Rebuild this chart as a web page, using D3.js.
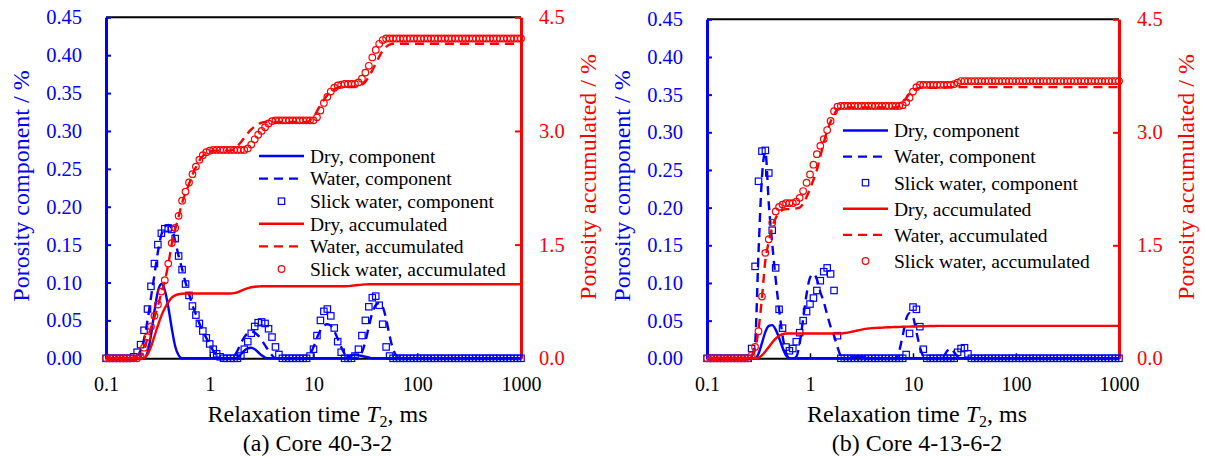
<!DOCTYPE html>
<html>
<head>
<meta charset="utf-8">
<script src="https://cdn.jsdelivr.net/npm/d3@7"></script>
<style>
  body { margin: 0; background: #fff; }
  svg { display: block; }
  text { font-family: "Liberation Serif", "Times New Roman", serif; }
</style>
</head>
<body>
<svg id="chart" width="1205" height="457"></svg>
<script>
// T2 grid, ms (one decade per line)
const t2 = [
  0.1, 0.108, 0.1166, 0.1259, 0.1359, 0.1468, 0.1585, 0.1711, 0.1848, 0.1995, 0.2154, 0.2326, 0.2512, 0.2712, 0.2929, 0.3162, 0.3415, 0.3687, 0.3981, 0.4299, 0.4642, 0.5012, 0.5412, 0.5843, 0.631, 0.6813, 0.7356, 0.7943, 0.8577, 0.9261,
  1, 1.08, 1.166, 1.259, 1.359, 1.468, 1.585, 1.711, 1.848, 1.995, 2.154, 2.326, 2.512, 2.712, 2.929, 3.162, 3.415, 3.687, 3.981, 4.299, 4.642, 5.012, 5.412, 5.843, 6.31, 6.813, 7.356, 7.943, 8.577, 9.261,
  10, 10.8, 11.66, 12.59, 13.59, 14.68, 15.85, 17.11, 18.48, 19.95, 21.54, 23.26, 25.12, 27.12, 29.29, 31.62, 34.15, 36.87, 39.81, 42.99, 46.42, 50.12, 54.12, 58.43, 63.1, 68.13, 73.56, 79.43, 85.77, 92.61,
  100, 108, 116.6, 125.9, 135.9, 146.8, 158.5, 171.1, 184.8, 199.5, 215.4, 232.6, 251.2, 271.2, 292.9, 316.2, 341.5, 368.7, 398.1, 429.9, 464.2, 501.2, 541.2, 584.3, 631, 681.3, 735.6, 794.3, 857.7, 926.1,
  1000];

const xTicks = [0.1, 1, 10, 100, 1000];
const xTickLabels = ["0.1", "1", "10", "100", "1000"];
const leftTicks = [0, 0.05, 0.1, 0.15, 0.2, 0.25, 0.3, 0.35, 0.4, 0.45];
const rightTicks = [0, 1.5, 3, 4.5];
const legendNames = ["Dry, component", "Water, component", "Slick water, component",
                     "Dry, accumulated", "Water, accumulated", "Slick water, accumulated"];

// ---- (a) Core 40-3-2 ----
const aDryComp = [
  0,0,0,0,0,0,0,0,0,0, 0,0,0.008,0.03,0.062,0.088,0.098,0.09,0.068,0.04, 0.016,0.004,0,0,0,0,0,0,0,0,
  0,0,0,0,0,0,0,0,0.001,0.005, 0.01,0.013,0.014,0.012,0.008,0.004,0.001,0,0,0, 0,0,0,0,0,0,0,0,0,0,
  0,0,0,0,0,0,0,0,0,0, 0.002,0.004,0.005,0.004,0.003,0.002,0.001,0,0,0, 0,0,0,0,0,0,0,0,0,0,
  0,0,0,0,0,0,0,0,0,0, 0,0,0,0,0,0,0,0,0,0, 0,0,0,0,0,0,0,0,0,0,
  0];
const aWaterComp = [
  0,0,0,0,0,0,0,0,0,0.003, 0.01,0.025,0.05,0.08,0.11,0.14,0.163,0.174,0.176,0.172, 0.155,0.135,0.118,0.1,0.085,0.07,0.058,0.046,0.036,0.027,
  0.018,0.01,0.004,0.001,0,0,0,0.003,0.01,0.02, 0.028,0.033,0.035,0.034,0.03,0.024,0.017,0.01,0.004,0, 0,0,0,0,0,0,0,0,0,0.005,
  0.015,0.027,0.037,0.043,0.045,0.043,0.036,0.026,0.015,0.006, 0,0,0,0.002,0.008,0.022,0.042,0.06,0.07,0.073, 0.068,0.052,0.03,0.012,0.003,0,0,0,0,0,
  0,0,0,0,0,0,0,0,0,0, 0,0,0,0,0,0,0,0,0,0, 0,0,0,0,0,0,0,0,0,0,
  0];
const aSlickComp = [
  0,0,0,0,0,0,0,0,0.002,0.008, 0.018,0.037,0.065,0.095,0.125,0.15,0.165,0.171,0.172,0.17, 0.158,0.135,0.117,0.098,0.083,0.069,0.057,0.046,0.036,0.027,
  0.019,0.012,0.006,0.002,0,0,0,0,0,0.003, 0.012,0.022,0.033,0.042,0.047,0.048,0.046,0.039,0.028,0.015, 0.005,0,0,0,0,0,0,0,0,0.003,
  0.012,0.03,0.05,0.062,0.065,0.056,0.04,0.022,0.008,0, 0,0,0.003,0.012,0.03,0.05,0.068,0.08,0.082,0.07, 0.045,0.015,0.003,0,0,0,0,0,0,0,
  0,0,0,0,0,0,0,0,0,0, 0,0,0,0,0,0,0,0,0,0, 0,0,0,0,0,0,0,0,0,0,
  0];
const aDryAcc = [
  0,0,0,0,0,0,0,0,0,0, 0,0.005,0.05,0.15,0.29,0.43,0.56,0.66,0.74,0.8, 0.83,0.845,0.852,0.855,0.855,0.855,0.855,0.855,0.855,0.855,
  0.855,0.855,0.855,0.855,0.855,0.855,0.855,0.86,0.87,0.89, 0.91,0.925,0.938,0.945,0.948,0.95,0.95,0.95,0.95,0.95, 0.95,0.95,0.95,0.95,0.95,0.95,0.95,0.95,0.95,0.95,
  0.95,0.95,0.95,0.95,0.95,0.95,0.95,0.95,0.95,0.95, 0.953,0.958,0.963,0.968,0.972,0.975,0.977,0.977,0.977,0.977, 0.977,0.977,0.977,0.977,0.977,0.977,0.977,0.977,0.977,0.977,
  0.977,0.977,0.977,0.977,0.977,0.977,0.977,0.977,0.977,0.977, 0.977,0.977,0.977,0.977,0.977,0.977,0.977,0.977,0.977,0.977, 0.977,0.977,0.977,0.977,0.977,0.977,0.977,0.977,0.977,0.977,
  0.977];
const aWaterAcc = [
  0,0,0,0,0,0,0,0,0,0, 0.02,0.12,0.26,0.4,0.54,0.69,0.86,1.02,1.24,1.5, 1.7,1.87,2.05,2.18,2.3,2.42,2.52,2.61,2.67,2.71,
  2.73,2.74,2.74,2.74,2.74,2.74,2.74,2.76,2.8,2.85, 2.91,2.97,3.02,3.06,3.09,3.11,3.12,3.12,3.12,3.12, 3.12,3.12,3.12,3.12,3.12,3.12,3.12,3.12,3.12,3.14,
  3.19,3.26,3.34,3.41,3.47,3.52,3.55,3.57,3.58,3.58, 3.58,3.58,3.58,3.59,3.61,3.65,3.72,3.8,3.89,3.98, 4.06,4.11,4.14,4.15,4.15,4.15,4.15,4.15,4.15,4.15,
  4.15,4.15,4.15,4.15,4.15,4.15,4.15,4.15,4.15,4.15, 4.15,4.15,4.15,4.15,4.15,4.15,4.15,4.15,4.15,4.15, 4.15,4.15,4.15,4.15,4.15,4.15,4.15,4.15,4.15,4.15,
  4.15];
const aSlickAcc = [
  0,0,0,0,0,0,0,0,0,0, 0.03,0.14,0.28,0.42,0.56,0.71,0.88,1.03,1.25,1.52, 1.72,1.88,2.08,2.2,2.32,2.43,2.53,2.62,2.68,2.72,
  2.74,2.75,2.75,2.75,2.75,2.75,2.75,2.75,2.75,2.75, 2.75,2.77,2.82,2.89,2.95,3,3.05,3.1,3.13,3.14, 3.14,3.14,3.14,3.14,3.14,3.14,3.14,3.14,3.14,3.14,
  3.14,3.18,3.27,3.37,3.45,3.52,3.57,3.6,3.61,3.62, 3.62,3.62,3.62,3.64,3.69,3.77,3.86,3.97,4.07,4.15, 4.2,4.22,4.22,4.22,4.22,4.22,4.22,4.22,4.22,4.22,
  4.22,4.22,4.22,4.22,4.22,4.22,4.22,4.22,4.22,4.22, 4.22,4.22,4.22,4.22,4.22,4.22,4.22,4.22,4.22,4.22, 4.22,4.22,4.22,4.22,4.22,4.22,4.22,4.22,4.22,4.22,
  4.22];

// ---- (b) Core 4-13-6-2 ----
const bDryComp = [
  0,0,0,0,0,0,0,0,0,0, 0,0,0,0,0,0.006,0.02,0.035,0.043,0.044, 0.038,0.027,0.014,0.004,0,0,0,0,0,0,
  0,0,0,0,0,0,0,0,0,0, 0,0,0.001,0.002,0.002,0.002,0.001,0,0,0, 0,0,0,0,0,0,0,0,0,0,
  0,0,0,0,0,0,0,0,0,0, 0,0,0,0,0,0,0,0,0,0, 0,0,0,0,0,0,0,0,0,0,
  0,0,0,0,0,0,0,0,0,0, 0,0,0,0,0,0,0,0,0,0, 0,0,0,0,0,0,0,0,0,0,
  0];
const bWaterComp = [
  0,0,0,0,0,0,0,0,0,0, 0,0,0,0.003,0.02,0.14,0.24,0.274,0.205,0.152, 0.105,0.065,0.03,0.008,0,0,0.002,0.02,0.052,0.085,
  0.107,0.112,0.105,0.088,0.075,0.058,0.042,0.03,0.015,0.003, 0,0,0,0,0,0,0,0,0,0, 0,0,0,0,0,0,0.01,0.03,0.052,0.06,
  0.055,0.035,0.015,0.003,0,0,0,0,0,0.003, 0.01,0.013,0.008,0.002,0,0,0,0,0,0, 0,0,0,0,0,0,0,0,0,0,
  0,0,0,0,0,0,0,0,0,0, 0,0,0,0,0,0,0,0,0,0, 0,0,0,0,0,0,0,0,0,0,
  0];
const bSlickComp = [
  0,0,0,0,0,0,0,0,0,0, 0,0,0,0.013,0.122,0.235,0.275,0.276,0.246,0.17, 0.12,0.065,0.04,0.015,0.01,0.013,0.022,0.034,0.05,0.062,
  0.072,0.08,0.09,0.103,0.115,0.12,0.112,0.09,0.03,0, 0,0,0,0,0,0,0,0,0,0, 0,0,0,0,0,0,0,0,0.005,0.033,
  0.068,0.065,0.042,0.012,0,0,0,0,0,0, 0,0,0,0.008,0.013,0.014,0.006,0,0,0, 0,0,0,0,0,0,0,0,0,0,
  0,0,0,0,0,0,0,0,0,0, 0,0,0,0,0,0,0,0,0,0, 0,0,0,0,0,0,0,0,0,0,
  0];
const bDryAcc = [
  0,0,0,0,0,0,0,0,0,0, 0,0,0,0,0,0.01,0.04,0.09,0.15,0.21, 0.26,0.3,0.32,0.33,0.33,0.33,0.33,0.33,0.33,0.33,
  0.33,0.33,0.33,0.33,0.33,0.33,0.33,0.33,0.33,0.33, 0.335,0.34,0.35,0.36,0.37,0.38,0.39,0.395,0.4,0.402, 0.405,0.407,0.41,0.412,0.414,0.415,0.417,0.419,0.42,0.421,
  0.422,0.423,0.425,0.426,0.427,0.428,0.429,0.43,0.43,0.43, 0.43,0.43,0.43,0.43,0.43,0.43,0.43,0.43,0.43,0.43, 0.43,0.43,0.43,0.43,0.43,0.43,0.43,0.43,0.43,0.43,
  0.43,0.43,0.43,0.43,0.43,0.43,0.43,0.43,0.43,0.43, 0.43,0.43,0.43,0.43,0.43,0.43,0.43,0.43,0.43,0.43, 0.43,0.43,0.43,0.43,0.43,0.43,0.43,0.43,0.43,0.43,
  0.43];
const bWaterAcc = [
  0,0,0,0,0,0,0,0,0,0, 0,0,0,0.03,0.12,0.38,0.8,1.3,1.55,1.74, 1.86,1.93,1.97,1.98,1.98,1.98,1.99,2,2.05,2.14,
  2.25,2.37,2.5,2.68,2.86,3.02,3.14,3.24,3.3,3.32, 3.33,3.33,3.33,3.33,3.33,3.33,3.33,3.33,3.33,3.33, 3.33,3.33,3.33,3.33,3.33,3.33,3.35,3.39,3.45,3.52,
  3.56,3.58,3.59,3.59,3.59,3.59,3.59,3.59,3.59,3.59, 3.6,3.6,3.6,3.6,3.6,3.6,3.6,3.6,3.6,3.6, 3.6,3.6,3.6,3.6,3.6,3.6,3.6,3.6,3.6,3.6,
  3.6,3.6,3.6,3.6,3.6,3.6,3.6,3.6,3.6,3.6, 3.6,3.6,3.6,3.6,3.6,3.6,3.6,3.6,3.6,3.6, 3.6,3.6,3.6,3.6,3.6,3.6,3.6,3.6,3.6,3.6,
  3.6];
const bSlickAcc = [
  0,0,0,0,0,0,0,0,0,0, 0,0,0,0.04,0.15,0.36,0.82,1.4,1.58,1.8, 1.95,2.01,2.04,2.06,2.06,2.06,2.08,2.13,2.22,2.33,
  2.44,2.57,2.71,2.82,2.91,3.03,3.15,3.28,3.34,3.35, 3.35,3.35,3.35,3.35,3.35,3.35,3.35,3.35,3.35,3.35, 3.35,3.35,3.35,3.35,3.35,3.35,3.35,3.36,3.4,3.46,
  3.54,3.6,3.63,3.63,3.63,3.63,3.63,3.63,3.63,3.63, 3.63,3.63,3.64,3.66,3.68,3.68,3.68,3.68,3.68,3.68, 3.68,3.68,3.68,3.68,3.68,3.68,3.68,3.68,3.68,3.68,
  3.68,3.68,3.68,3.68,3.68,3.68,3.68,3.68,3.68,3.68, 3.68,3.68,3.68,3.68,3.68,3.68,3.68,3.68,3.68,3.68, 3.68,3.68,3.68,3.68,3.68,3.68,3.68,3.68,3.68,3.68,
  3.68];

// layout per panel
const panels = [
  { caption: "(a) Core 40-3-2", left: 106, right: 521, top: 17.3, bottom: 358.3,
    legX: 259, legY: 156, legDy: 22.6,
    data: [aDryComp, aWaterComp, aSlickComp, aDryAcc, aWaterAcc, aSlickAcc] },
  { caption: "(b) Core 4-13-6-2", left: 707, right: 1119, top: 19.3, bottom: 358.3,
    legX: 843, legY: 130.5, legDy: 26.1,
    data: [bDryComp, bWaterComp, bSlickComp, bDryAcc, bWaterAcc, bSlickAcc] }
];

const blue = "#0000ff", red = "#ff0000";
const styles = [
  { axis: "L", kind: "line", color: blue, dash: null },
  { axis: "L", kind: "line", color: blue, dash: "9,6" },
  { axis: "L", kind: "square", color: blue },
  { axis: "R", kind: "line", color: red, dash: null },
  { axis: "R", kind: "line", color: red, dash: "9,6" },
  { axis: "R", kind: "circle", color: red }
];

const svg = d3.select("#chart");

panels.forEach(p => {
  panels.forEach(() => {});
  p.data.forEach((arr, k) => { if (arr.length !== t2.length) console.error(p.caption, k, arr.length); });

  const x = d3.scaleLog().domain([0.1, 1000]).range([p.left, p.right]);
  const yL = d3.scaleLinear().domain([0, 0.45]).range([p.bottom, p.top]);
  const yR = d3.scaleLinear().domain([0, 4.5]).range([p.bottom, p.top]);
  const g = svg.append("g");

  // top border
  g.append("line")
    .attr("x1", p.left).attr("x2", p.right)
    .attr("y1", p.top).attr("y2", p.top)
    .attr("stroke", "#000").attr("stroke-width", 2);

  // x axis
  g.append("g")
    .attr("transform", `translate(0,${p.bottom})`)
    .call(d3.axisBottom(x).tickValues(xTicks).tickFormat((d, i) => xTickLabels[i])
      .tickSizeInner(-5).tickSizeOuter(0).tickPadding(19))
    .call(a => a.select(".domain").attr("stroke", "#000").attr("stroke-width", 2))
    .call(a => a.selectAll(".tick line").attr("stroke", "#000").attr("stroke-width", 1.5))
    .call(a => a.selectAll(".tick text").attr("fill", "#000")
      .style("font-size", "20px").style("font-family", "Liberation Serif"));

  // left axis
  g.append("g")
    .attr("transform", `translate(${p.left},0)`)
    .call(d3.axisLeft(yL).tickValues(leftTicks).tickFormat(d3.format(".2f"))
      .tickSizeInner(-5).tickSizeOuter(0).tickPadding(24))
    .call(a => a.select(".domain").attr("stroke", blue).attr("stroke-width", 3))
    .call(a => a.selectAll(".tick line").attr("stroke", blue).attr("stroke-width", 2))
    .call(a => a.selectAll(".tick text").attr("fill", blue)
      .style("font-size", "20.5px").style("font-family", "Liberation Serif"));

  // right axis
  g.append("g")
    .attr("transform", `translate(${p.right},0)`)
    .call(d3.axisRight(yR).tickValues(rightTicks).tickFormat(d3.format(".1f"))
      .tickSizeInner(-6).tickSizeOuter(0).tickPadding(18))
    .call(a => a.select(".domain").attr("stroke", red).attr("stroke-width", 3))
    .call(a => a.selectAll(".tick line").attr("stroke", red).attr("stroke-width", 2))
    .call(a => a.selectAll(".tick text").attr("fill", red)
      .style("font-size", "20.5px").style("font-family", "Liberation Serif"));

  // series
  styles.forEach((s, k) => {
    const y = s.axis === "L" ? yL : yR;
    const vals = p.data[k];
    if (s.kind === "line") {
      const line = d3.line().x((d, i) => x(t2[i])).y(d => y(d)).curve(d3.curveMonotoneX);
      g.append("path").datum(vals)
        .attr("d", line)
        .attr("fill", "none")
        .attr("stroke", s.color)
        .attr("stroke-width", 2.4)
        .attr("stroke-dasharray", s.dash);
    } else if (s.kind === "square") {
      g.append("g").selectAll("rect").data(vals).join("rect")
        .attr("x", (d, i) => x(t2[i]) - 3.2)
        .attr("y", d => y(d) - 3.2)
        .attr("width", 6.4).attr("height", 6.4)
        .attr("fill", "none").attr("stroke", s.color).attr("stroke-width", 1.2);
    } else {
      g.append("g").selectAll("circle").data(vals).join("circle")
        .attr("cx", (d, i) => x(t2[i]))
        .attr("cy", d => y(d))
        .attr("r", 3.3)
        .attr("fill", "none").attr("stroke", s.color).attr("stroke-width", 1.2);
    }
  });

  // legend
  styles.forEach((s, k) => {
    const ly = p.legY + k * p.legDy;
    const lx = p.legX;
    if (s.kind === "line") {
      g.append("line")
        .attr("x1", lx).attr("x2", lx + 45)
        .attr("y1", ly).attr("y2", ly)
        .attr("stroke", s.color).attr("stroke-width", 2.4)
        .attr("stroke-dasharray", s.dash);
    } else if (s.kind === "square") {
      g.append("rect")
        .attr("x", lx + 22.5 - 3.2).attr("y", ly - 3.2)
        .attr("width", 6.4).attr("height", 6.4)
        .attr("fill", "none").attr("stroke", s.color).attr("stroke-width", 1.2);
    } else {
      g.append("circle")
        .attr("cx", lx + 22.5).attr("cy", ly).attr("r", 3.3)
        .attr("fill", "none").attr("stroke", s.color).attr("stroke-width", 1.2);
    }
    g.append("text")
      .attr("x", lx + 51).attr("y", ly).attr("dy", "0.35em")
      .style("font-size", "19.5px").attr("fill", "#000")
      .text(legendNames[k]);
  });

  // axis titles
  g.append("text")
    .attr("transform", `translate(${p.left - 77},186) rotate(-90)`)
    .attr("text-anchor", "middle")
    .style("font-size", "24px").attr("fill", blue)
    .text("Porosity component / %");

  g.append("text")
    .attr("transform", `translate(${p.right + 75},177) rotate(-90)`)
    .attr("text-anchor", "middle")
    .style("font-size", "24px").attr("fill", red)
    .text("Porosity accumulated / %");

  const cx = (p.left + p.right) / 2 + 4;
  const xt = g.append("text")
    .attr("x", cx).attr("y", 422)
    .attr("text-anchor", "middle")
    .style("font-size", "24px").attr("fill", "#000");
  xt.append("tspan").text("Relaxation time ");
  xt.append("tspan").style("font-style", "italic").text("T");
  xt.append("tspan").attr("dy", 5).style("font-size", "16px").text("2");
  xt.append("tspan").attr("dy", -5).text(", ms");

  g.append("text")
    .attr("x", cx).attr("y", 451)
    .attr("text-anchor", "middle")
    .style("font-size", "24px").attr("fill", "#000")
    .text(p.caption);
});
</script>
</body>
</html>
